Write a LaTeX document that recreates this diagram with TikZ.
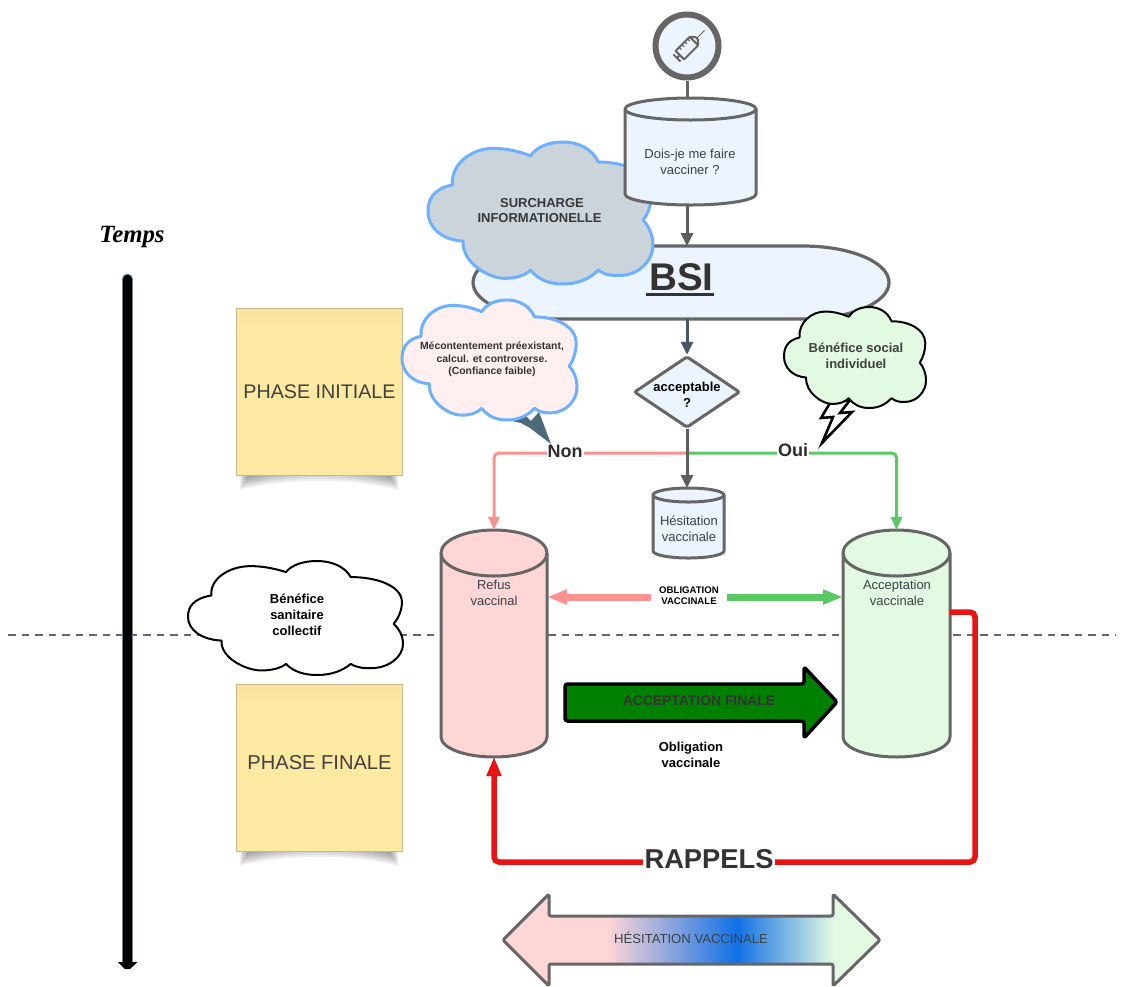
\documentclass[tikz,border=0pt]{standalone}
\usepackage{fontspec}
\setmainfont{Liberation Sans}
\newfontfamily\tempsfont{Liberation Serif}
\usetikzlibrary{arrows.meta,shapes.geometric}
\definecolor{lineg}{HTML}{666666}
\definecolor{arrg}{HTML}{5E5E5E}
\definecolor{arrb}{HTML}{4C5561}
\definecolor{txtd}{HTML}{3A414A}
\definecolor{lblue}{HTML}{EBF4FF}
\definecolor{lpink}{HTML}{FFD6D6}
\definecolor{lgreen}{HTML}{E2F9E2}
\definecolor{cblue}{HTML}{6DB0FF}
\definecolor{cgrey}{HTML}{CBD3DB}
\definecolor{cpink}{HTML}{FFF0EF}
\definecolor{npink}{HTML}{FF9090}
\definecolor{ngreen}{HTML}{5AC864}
\definecolor{nred}{HTML}{E81313}
\definecolor{stA}{HTML}{F8E49F}
\definecolor{stB}{HTML}{FEE9A3}
\definecolor{hb}{HTML}{1071E5}
\definecolor{dkgreen}{HTML}{008000}
\definecolor{boltb}{HTML}{4C6A7A}
\definecolor{axhalo}{HTML}{7A8290}
\pgfdeclarehorizontalshading{hes}{100bp}{color(0bp)=(lpink); color(38.8bp)=(lpink); color(56bp)=(hb); color(68.8bp)=(lgreen); color(100bp)=(lgreen)}
\def\cloudpath{(0.109,0.302) .. controls (0.02,0.33) and (0,0.41) .. (0,0.49) .. controls (0,0.60) and (0.06,0.69) .. (0.156,0.698)
 .. controls (0.15,0.85) and (0.27,0.96) .. (0.34,0.96) .. controls (0.39,0.96) and (0.43,0.94) .. (0.456,0.903)
 .. controls (0.49,0.97) and (0.54,1) .. (0.60,1) .. controls (0.67,1) and (0.72,0.96) .. (0.757,0.903)
 .. controls (0.79,0.94) and (0.82,0.94) .. (0.85,0.94) .. controls (0.94,0.94) and (1,0.83) .. (1,0.73) .. controls (1,0.65) and (0.98,0.59) .. (0.956,0.551)
 .. controls (0.98,0.50) and (0.995,0.43) .. (0.995,0.36) .. controls (0.995,0.22) and (0.88,0.14) .. (0.757,0.141)
 .. controls (0.73,0.05) and (0.67,0) .. (0.6,0) .. controls (0.53,0) and (0.48,0.04) .. (0.456,0.097)
 .. controls (0.40,0.065) and (0.35,0.045) .. (0.29,0.045) .. controls (0.19,0.045) and (0.10,0.16) .. (0.109,0.302) -- cycle}
% left right top bottom style
\newcommand{\mycloud}[5]{%
 \pgfmathsetmacro\clW{#2-#1}\pgfmathsetmacro\clH{#4-#3}%
 \begin{scope}[shift={(#1,#3)},x=\clW pt,y=-\clH pt]
  \draw[#5,line join=round] \cloudpath;
 \end{scope}}
% name left right top bottom rytop rybot fill
\newcommand{\mycyl}[8]{%
 \pgfmathsetmacro\cyM{(#2+#3)/2}\pgfmathsetmacro\cyR{(#3-#2)/2}\pgfmathsetmacro\cyW{#3-#2}\pgfmathsetmacro\cyHh{#5-#4}%
 \pgfmathsetmacro\cyT{#4+#6}\pgfmathsetmacro\cyB{#5-#7}\pgfmathsetmacro\cyMid{(#4+#5)/2}%
 \pgfmathsetmacro\cyKx{.5523*\cyR}\pgfmathsetmacro\cyKt{.5523*#6}\pgfmathsetmacro\cyKb{.5523*#7}%
 \draw[cylline,fill=#8] (#2,\cyT) -- (#2,\cyB) .. controls (#2,\cyB+\cyKb) and (\cyM-\cyKx,#5) .. (\cyM,#5)
   .. controls (\cyM+\cyKx,#5) and (#3,\cyB+\cyKb) .. (#3,\cyB) -- (#3,\cyT)
   .. controls (#3,\cyT-\cyKt) and (\cyM+\cyKx,#4) .. (\cyM,#4) .. controls (\cyM-\cyKx,#4) and (#2,\cyT-\cyKt) .. cycle;
 \draw[cylline] (#2,\cyT) .. controls (#2,\cyT+\cyKt) and (\cyM-\cyKx,\cyT+#6) .. (\cyM,\cyT+#6) .. controls (\cyM+\cyKx,\cyT+#6) and (#3,\cyT+\cyKt) .. (#3,\cyT);
 \node[inner sep=0pt,outer sep=0pt,minimum width=\cyW pt,minimum height=\cyHh pt] (#1) at (\cyM,\cyMid) {};}
% sticky: name top bottom
\newcommand{\mysticky}[3]{%
 \foreach \s in {0,...,6}{%
  \pgfmathsetmacro\sa{240+1.2*\s}\pgfmathsetmacro\sb{398-1.2*\s}\pgfmathsetmacro\sc{#3+15-2*\s}\pgfmathsetmacro\sd{#3+3-2*\s}%
  \fill[black,opacity=.06] (\sa,#3-6) -- (\sb,#3-6) -- (\sb,\sc) .. controls (\sb-45,\sd) and (\sa+45,\sd) .. (\sa,\sc) -- cycle;}
 \pgfmathsetmacro\sm{(#2+#3)/2}\pgfmathsetmacro\sh{#3-#2}%
 \fill[stB] (236,#2) rectangle (402,#3);
 \shade[top color=stA,bottom color=stB] (236,#2) rectangle (402,#2+32);
 \node[draw=stA!75!black!85,line width=.7pt,minimum width=166pt,minimum height=\sh pt,inner sep=0pt,outer sep=0pt] (#1) at (319,\sm) {};}
\tikzset{
 cylline/.style={draw=lineg,line width=3pt,line join=round},
 lbl/.style={inner sep=0pt,align=center,text=txtd,font=\fontsize{13}{15.8}\selectfont},
 lblb/.style={inner sep=0pt,align=center,text=black!85,font=\fontsize{13}{15.8}\selectfont\bfseries},
 phaselbl/.style={inner sep=0pt,text=black!75,font=\fontsize{19.7}{24}\selectfont},
 arrowgrey/.style={draw=arrg,line width=3pt,-{Triangle[length=13pt,width=12pt,fill=arrg]}},
 armpink/.style={draw=npink,line width=3pt,rounded corners=5pt,-{Triangle[length=13pt,width=11pt]}},
 armgreen/.style={draw=ngreen,line width=3pt,rounded corners=5pt,-{Triangle[length=13pt,width=11pt]}},
 obligarrow/.style={line width=7pt,-{Triangle[length=20pt,width=14pt]}},
 redline/.style={draw=nred,line width=5.5pt,rounded corners=5pt,-{Triangle[length=19pt,width=14pt]}},
 branch/.style={inner sep=1pt,fill=white,text=black!82,font=\fontsize{18}{20}\selectfont\bfseries},
}
\begin{document}
\begin{tikzpicture}[x=1pt,y=-1pt]
\useasboundingbox (0,0) rectangle (1123,986);
\fill[white] (0,0) rectangle (1123,986);
% dashed time line
\coordinate (dashL) at (8,635);
\coordinate (dashR) at (1116,635);
\draw[draw=lineg,line width=1.7pt,dash pattern=on 7.5pt off 6pt] (dashL) -- (dashR);
% time axis
\node[inner sep=0pt,text=black,font=\fontsize{24.8}{26}\selectfont\tempsfont\bfseries\itshape] (temps) at (132,237.5) {Temps};
\coordinate (axT) at (127.5,279);
\coordinate (axB) at (127.5,963);
\draw[draw=axhalo,line width=10.8pt,line cap=round] (axT) -- (axB);
\draw[draw=black,line width=8.4pt,line cap=round] (axT) -- (axB);
\fill[black] (118,962) -- (137.5,962) -- (130,969) -- (125,969) -- cycle;
% stickies
\mysticky{stickyA}{308}{475}
\mysticky{stickyB}{684}{851}
\node[phaselbl] (phaseA) at (319.5,391.5) {PHASE INITIALE};
\node[phaselbl,font=\fontsize{20.1}{24}\selectfont] (phaseB) at (319.5,762.5) {PHASE FINALE};
% BSI
\draw[draw=lineg,line width=3.2pt,fill=lblue] (559,246) -- (803,246) .. controls (850,246) and (889,262) .. (889,282.5) .. controls (889,303) and (850,319) .. (803,319) -- (559,319) .. controls (512,319) and (473,303) .. (473,282.5) .. controls (473,262) and (512,246) .. (559,246) -- cycle;
\node[inner sep=0pt,outer sep=0pt,minimum width=416pt,minimum height=73pt] (bsi) at (681,282.5) {};
\node[inner sep=0pt,text=black!80,font=\fontsize{38.6}{40}\selectfont\bfseries] (bsilabel) at (681.5,280) {\rlap{\kern-3pt\rule[-6pt]{68pt}{3pt}}BSI};
% surcharge cloud
\mycloud{428}{653}{142}{284}{draw=cblue,line width=3pt,fill=cgrey}
\node[lblb,text=black!78] (surcharge) at (539.5,210.5) {\hspace*{5pt}SURCHARGE\\INFORMATIONELLE};
% syringe circle
\node[circle,draw=lineg,fill=lblue,line width=6pt,minimum size=63pt,inner sep=0pt] (c0) at (687,46) {};
\begin{scope}[shift={(689,46)},rotate=45,draw=lineg,line width=2pt,line join=round]
 \draw (-13,-6) rectangle (7,6);
 \draw (7,-6) -- (11,-1.5) -- (11,1.5) -- (7,6);
 \draw[line width=1pt] (11,0) -- (22,0);
 \draw (-13,0) -- (-17,0);
 \draw (-17,-5) -- (-17,5);
 \draw[line width=1.2pt] (-8,-6) -- (-8,-3) (-4,-6) -- (-4,-3) (0,-6) -- (0,-3) (4,-6) -- (4,-3);
\end{scope}
% top cylinder
\mycyl{cylq}{625}{756}{98}{205}{11}{11}{lblue}
\node[lbl] (qtext) at (690,161.5) {Dois-je me faire\\vacciner ?};
\draw[draw=lineg,line width=3pt] (c0.south) -- (c0.south |- cylq.north);
\draw[arrowgrey] (c0.south |- cylq.south) -- (c0.south |- bsi.north);
% bolts
\fill[boltb] (551,444) -- (539,412) -- (531,421) -- (524,414) -- (512,421) -- (521,423) -- (530,428) -- cycle;
% pink cloud
\mycloud{402}{577}{300}{420}{draw=cblue,line width=3pt,fill=cpink}
\node[inner sep=0pt,align=center,text=black!80,font=\fontsize{10.4}{12.6}\selectfont\bfseries] (mecont) at (492,359.5) {Mécontentement préexistant,\\calcul. et controverse.\hspace*{10pt}\\(Confiance faible)};
% black bolt + green cloud
\draw[draw=black,line width=2.6pt,fill=white,line join=miter] (830,403) -- (821,418) -- (833,417) -- (822,443) -- (852,412) -- (840,413) -- (850,400) -- cycle;
\mycloud{784}{926}{307}{408}{draw=black,line width=2pt,fill=lgreen}
\node[lblb,text=black!75] (social) at (856,355.5) {Bénéfice social\\individuel};
% diamond
\node[diamond,draw=lineg,fill=lblue,line width=3pt,rounded corners=2pt,minimum width=106pt,minimum height=71.5pt,aspect=1.49,inner sep=0pt] (dia) at (687,392) {};
\node[lblb,text=black] (diatext) at (687,395) {acceptable\\?};
\draw[draw=arrb,line width=3pt,-{Triangle[length=13pt,width=12pt]}] (c0.south |- bsi.south) -- (dia.north);
% cylinders
\mycyl{hesit}{653}{724}{488}{558}{7}{7}{lblue}
\mycyl{refus}{441}{547}{530}{757}{23}{20}{lpink}
\mycyl{accep}{843}{950}{530}{757}{23}{20}{lgreen}
\node[lbl] (hesittext) at (689,528.5) {Hésitation\\vaccinale};
\node[lbl] (refustext) at (494,593) {Refus\\vaccinal};
\node[lbl] (acceptext) at (897,593) {Acceptation\\vaccinale};
% branches
\coordinate (fork) at (687,453);
\draw[armpink] (fork) -| (refus.north);
\draw[armgreen] (fork) -| (accep.north);
\draw[arrowgrey] (dia.south) -- (hesit.north -| dia.south);
\node[branch] (non) at (565,451) {Non};
\node[branch] (oui) at (793,450) {Oui};
% benefice sanitaire
\mycloud{188}{403}{561}{675}{draw=black,line width=2pt,fill=white}
\node[lblb,text=black] (sanit) at (297,615) {Bénéfice\\sanitaire\\collectif};
% obligation
\node[inner sep=0pt,align=center,text=black,font=\fontsize{9.6}{11.6}\selectfont\bfseries] (oblig) at (689,595.5) {OBLIGATION\\VACCINALE};
\coordinate (obL) at (651,597);
\coordinate (obR) at (727,597);
\draw[obligarrow,draw=npink] (obL) -- (refus.east |- obL);
\draw[obligarrow,draw=ngreen] (obR) -- (accep.west |- obR);
% acceptation finale
\draw[draw=black,line width=3.5pt,fill=dkgreen,line join=round,rounded corners=2.5pt] (565,684) -- (804,684) -- (804,667) -- (837,702) -- (804,738) -- (804,721) -- (565,721) -- cycle;
\node[inner sep=0pt,text=black!80,font=\fontsize{13.9}{15}\selectfont\bfseries] (finale) at (699,700.5) {ACCEPTATION FINALE};
\node[lblb,text=black] (obltext) at (691,754.5) {Obligation\\vaccinale};
% rappels
\coordinate (rstart) at (950,612);
\coordinate (rR) at (975,612);
\coordinate (rB) at (975,862);
\draw[redline] (rstart) -- (rR) -- (rB) -| (refus.south);
\node[inner sep=2pt,fill=white,text=black!80,font=\fontsize{27.3}{30}\selectfont\bfseries] (rappels) at (709,859.5) {RAPPELS};
% double arrow
\shade[shading=hes,rounded corners=2pt] (503,940) -- (549,894) -- (549,916) -- (833,916) -- (833,894) -- (880,940) -- (833,986) -- (833,964) -- (549,964) -- (549,986) -- cycle;
\draw[draw=lineg,line width=3pt,rounded corners=2pt,line join=round] (503,940) -- (549,894) -- (549,916) -- (833,916) -- (833,894) -- (880,940) -- (833,986) -- (833,964) -- (549,964) -- (549,986) -- cycle;
\node[inner sep=0pt,text=txtd,font=\fontsize{13.1}{15}\selectfont] (hestext) at (691,938) {HÉSITATION VACCINALE};
\end{tikzpicture}
\end{document}
